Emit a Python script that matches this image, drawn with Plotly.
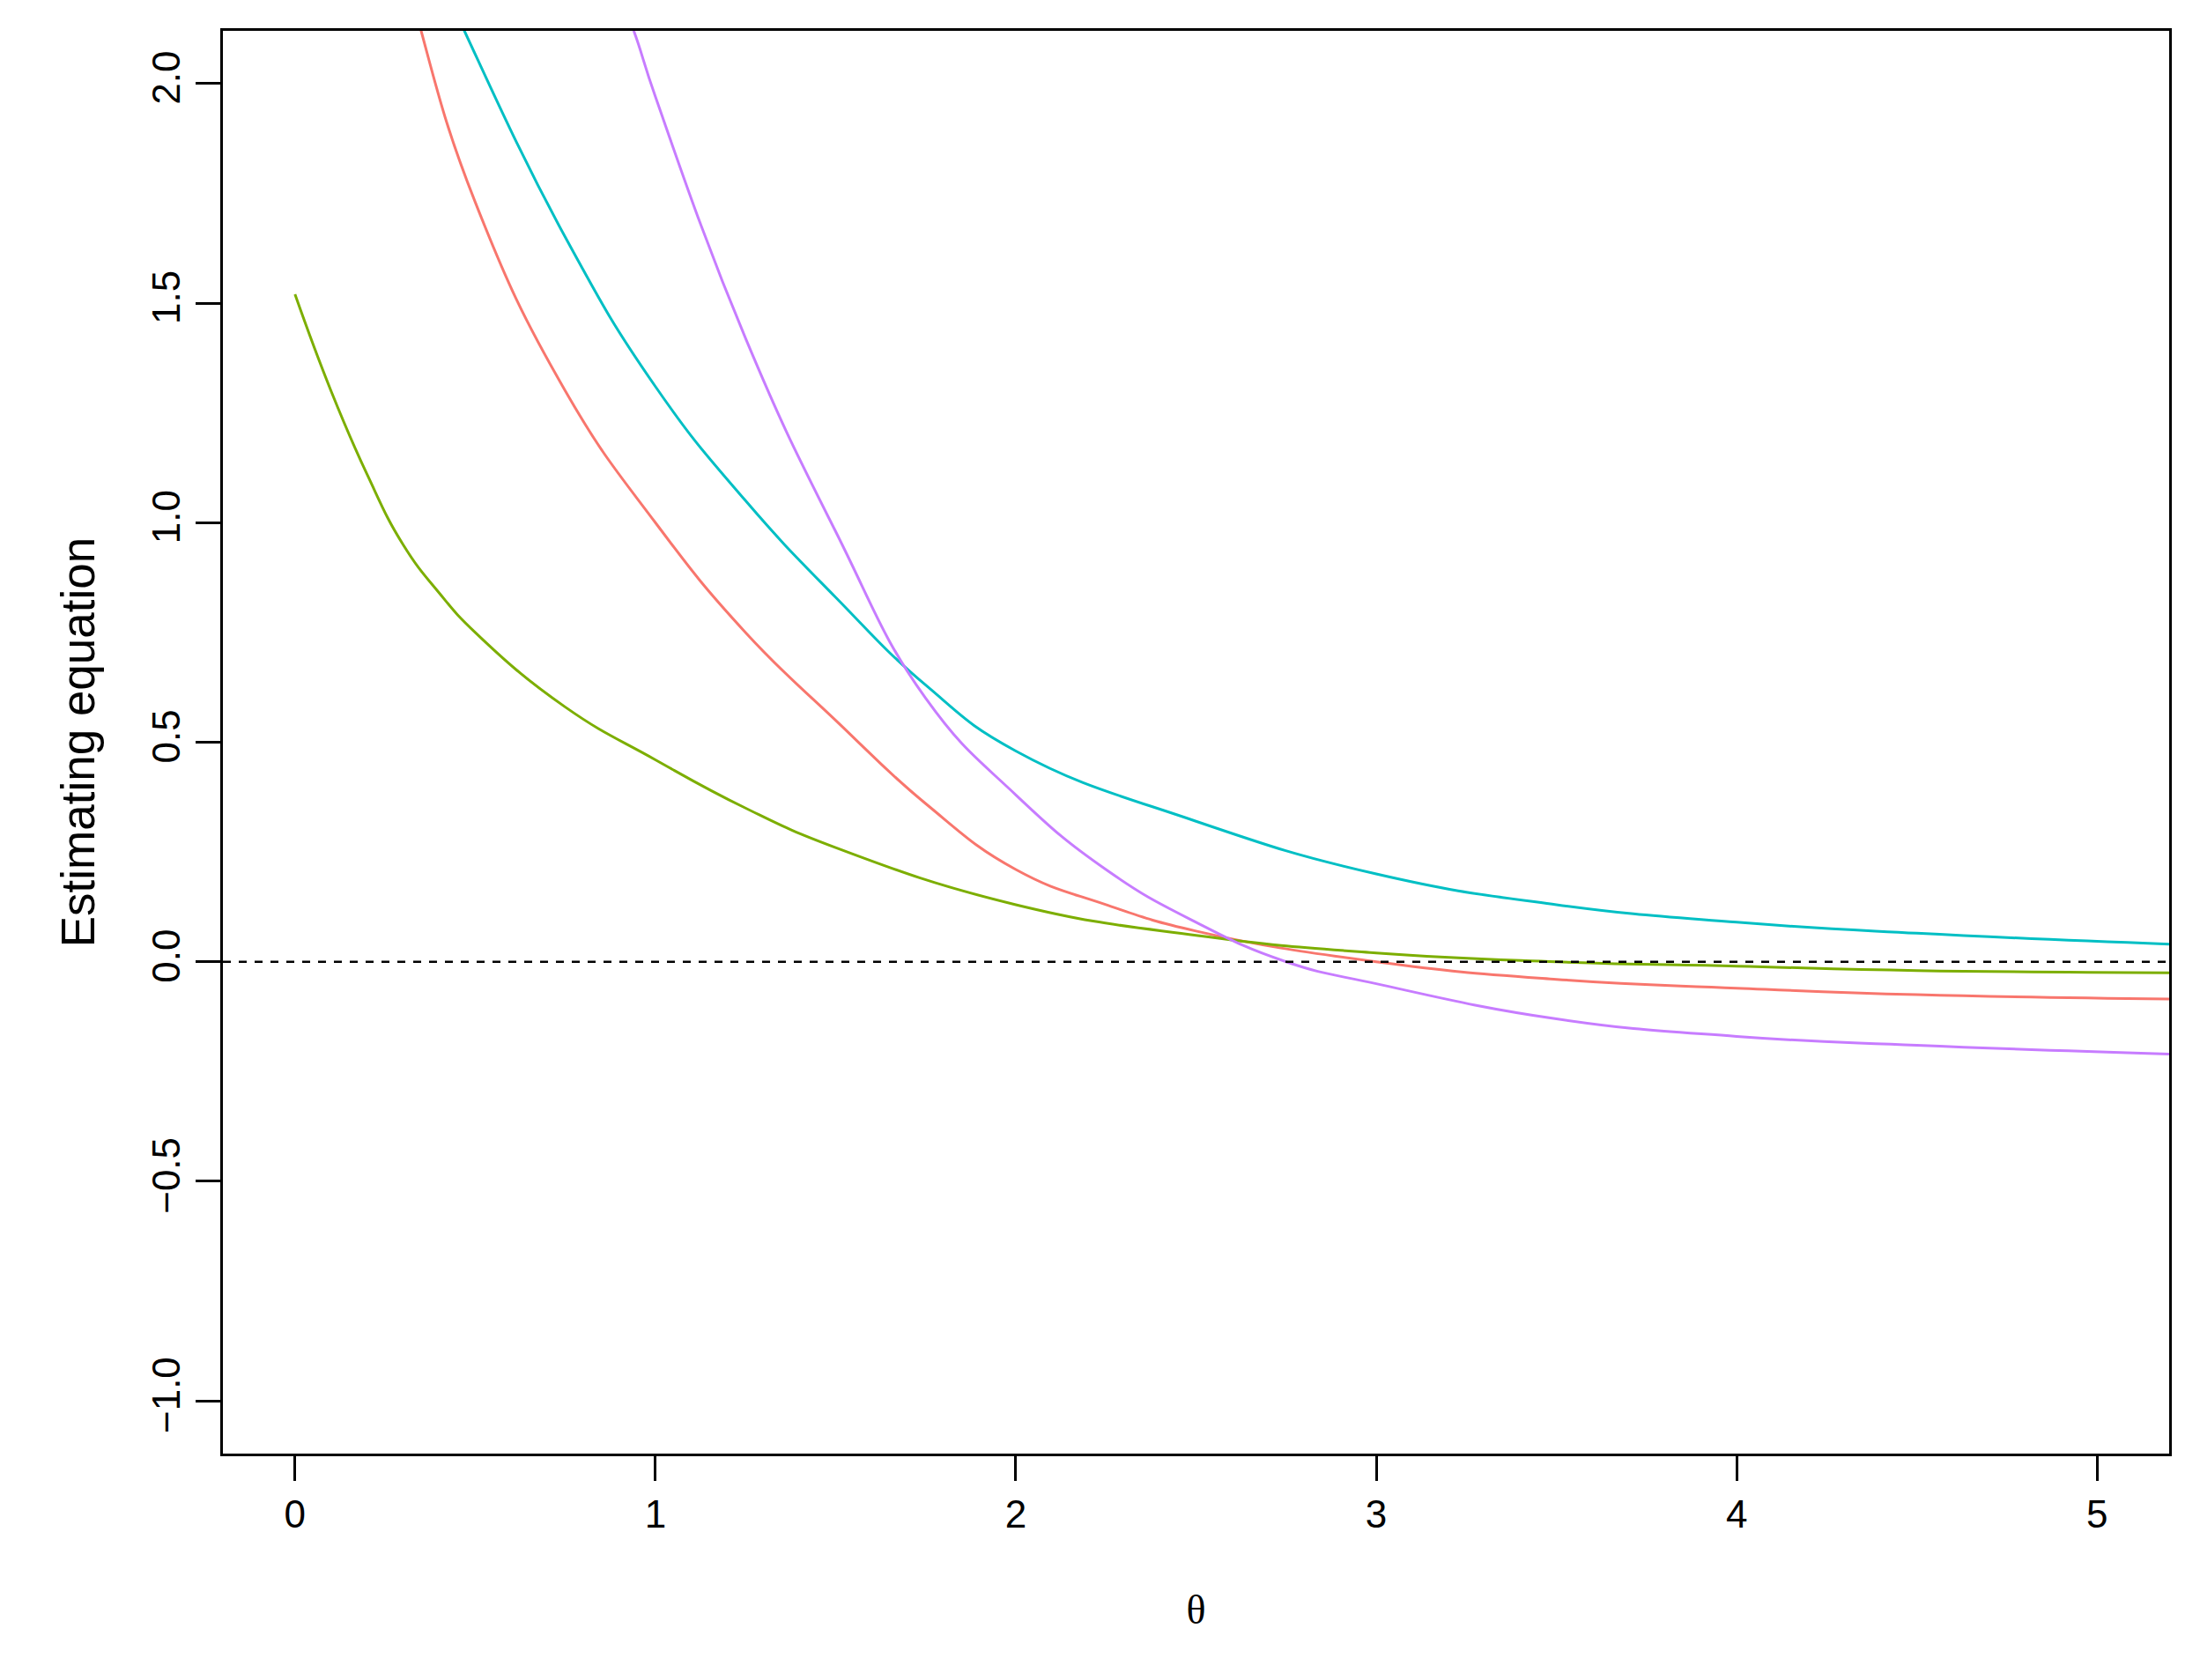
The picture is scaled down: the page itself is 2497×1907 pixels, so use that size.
import plotly.graph_objects as go

theta_green = [0.0, 0.1, 0.2, 0.3, 0.4, 0.5, 0.75, 1.0, 1.25, 1.5, 2.0, 2.5, 3.0, 3.5, 4.0, 4.5, 5.2]
green = [1.52, 1.30, 1.11, 0.95, 0.84, 0.75, 0.58, 0.46, 0.35, 0.26, 0.13, 0.06, 0.02, 0.0, -0.01, -0.02, -0.025]

theta_red = [0.3, 0.35, 0.5, 0.75, 1.0, 1.25, 1.5, 1.75, 2.0, 2.25, 2.5, 3.0, 3.5, 4.0, 4.5, 5.2]
red = [2.3, 2.12, 1.73, 1.3, 1.0, 0.75, 0.55, 0.36, 0.21, 0.13, 0.07, 0.0, -0.04, -0.06, -0.075, -0.085]

theta_cyan = [0.4, 0.47, 0.75, 1.0, 1.25, 1.5, 1.75, 2.0, 2.5, 3.0, 3.5, 4.0, 4.5, 5.2]
cyan = [2.25, 2.12, 1.65, 1.31, 1.05, 0.83, 0.63, 0.48, 0.32, 0.2, 0.13, 0.09, 0.065, 0.04]

theta_purple = [0.9, 0.94, 1.0, 1.25, 1.5, 1.75, 2.0, 2.25, 2.5, 2.75, 3.0, 3.5, 4.0, 4.5, 5.2]
purple = [2.2, 2.12, 1.97, 1.42, 0.98, 0.6, 0.38, 0.21, 0.09, 0.0, -0.05, -0.13, -0.17, -0.19, -0.21]

fig = go.Figure()
for x, y, c in [(theta_red, red, "#F8766D"), (theta_green, green, "#7CAE00"),
                (theta_cyan, cyan, "#00BFC4"), (theta_purple, purple, "#C77CFF")]:
    fig.add_trace(go.Scatter(x=x, y=y, mode="lines",
                             line=dict(color=c, width=3, shape="spline", smoothing=1.3),
                             showlegend=False))
fig.add_trace(go.Scatter(x=[-0.2, 5.2], y=[0, 0], mode="lines",
                         line=dict(color="black", width=2.5, dash="dash"), showlegend=False))

fig.update_layout(
    width=2497, height=1907, plot_bgcolor="white", paper_bgcolor="white",
    margin=dict(l=245, r=43, t=27, b=265),
    font=dict(family="Liberation Sans, Arial", size=44, color="black"),
)
fig.update_xaxes(range=[-0.2, 5.2], tickvals=[0, 1, 2, 3, 4, 5], showgrid=False, zeroline=False,
                 showline=True, linecolor="black", linewidth=3, mirror=True,
                 ticks="outside", ticklen=28, tickwidth=3, tickcolor="black",
                 title=dict(text="θ", standoff=70, font=dict(family="Liberation Serif", size=46)))
fig.update_yaxes(range=[-1.12, 2.12], tickvals=[-1, -0.5, 0, 0.5, 1, 1.5, 2],
                 ticktext=["−1.0", "−0.5", "0.0", "0.5", "1.0", "1.5", "2.0"],
                 tickangle=-90, showgrid=False, zeroline=False,
                 showline=True, linecolor="black", linewidth=3, mirror=True,
                 ticks="outside", ticklen=28, tickwidth=3, tickcolor="black",
                 title=dict(text="Estimating equation", standoff=40))
fig.write_html("out.html")
